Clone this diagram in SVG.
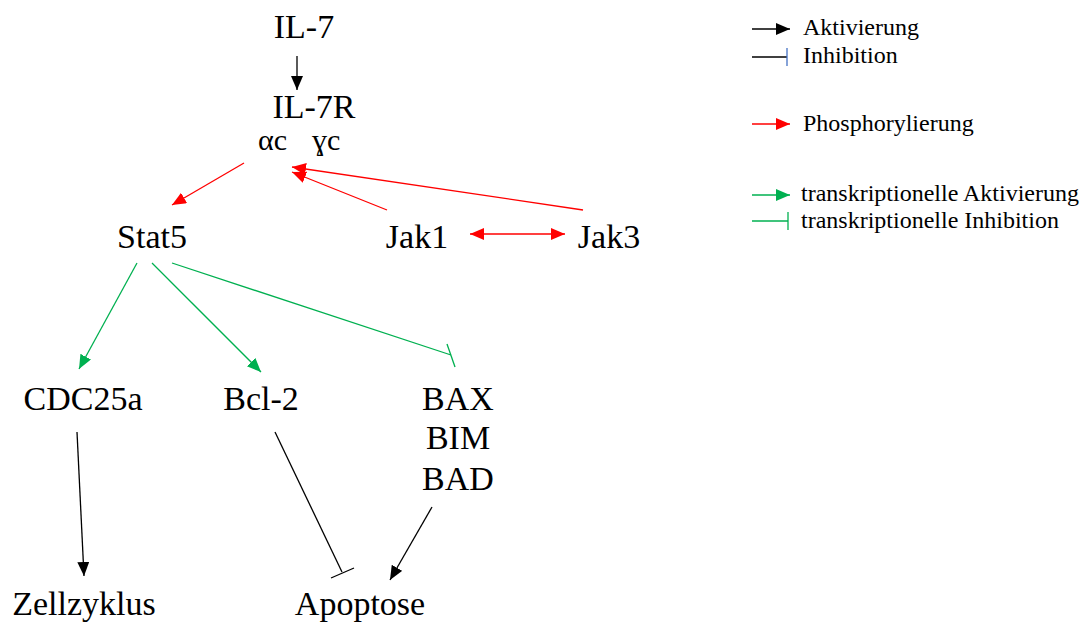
<svg xmlns="http://www.w3.org/2000/svg" width="1088" height="626" viewBox="0 0 1088 626">
<style>
text{font-family:"Liberation Serif","Times New Roman",serif;fill:#000}
.n{font-size:34px;text-anchor:middle}
.l{font-size:24px}
.k{stroke:#000;stroke-width:1.3;fill:none}
.r{stroke:#ff0000;stroke-width:1.3;fill:none}
.g{stroke:#00b050;stroke-width:1.3;fill:none}
</style>
<defs>
<marker id="ak" markerUnits="userSpaceOnUse" markerWidth="16" markerHeight="14" refX="14" refY="6" orient="auto"><path d="M0,0L14,6L0,12z" fill="#000"/></marker>
<marker id="ar" markerUnits="userSpaceOnUse" markerWidth="16" markerHeight="14" refX="14" refY="6" orient="auto-start-reverse"><path d="M0,0L14,6L0,12z" fill="#ff0000"/></marker>
<marker id="ag" markerUnits="userSpaceOnUse" markerWidth="16" markerHeight="14" refX="14" refY="6" orient="auto"><path d="M0,0L14,6L0,12z" fill="#00b050"/></marker>
</defs>
<g id="il7"><text class="n" x="304" y="38">IL-7</text></g>
<g id="il7r"><text class="n" x="314" y="118">IL-7R</text><text x="258" y="150" style="font-size:30px">αc</text><text x="312" y="150" style="font-size:30px">ɣc</text></g>
<g id="stat5"><text class="n" x="152" y="248">Stat5</text></g>
<g id="jak1"><text class="n" x="417" y="248">Jak1</text></g>
<g id="jak3"><text class="n" x="609" y="248">Jak3</text></g>
<g id="cdc25a"><text class="n" x="83" y="410">CDC25a</text></g>
<g id="bcl2"><text class="n" x="261" y="410">Bcl-2</text></g>
<g id="bax"><text class="n" x="458" y="410">BAX</text><text class="n" x="458" y="449">BIM</text><text class="n" x="458" y="490">BAD</text></g>
<g id="zellzyklus"><text class="n" x="84" y="615">Zellzyklus</text></g>
<g id="apoptose"><text class="n" x="360" y="615">Apoptose</text></g>
<g id="connectors">
<line class="k" x1="297" y1="56" x2="297" y2="90" marker-end="url(#ak)"/>
<line class="r" x1="244" y1="163" x2="172" y2="205" marker-end="url(#ar)"/>
<line class="r" x1="387" y1="210" x2="292" y2="172" marker-end="url(#ar)"/>
<line class="r" x1="583" y1="210" x2="292" y2="167" marker-end="url(#ar)"/>
<line class="r" x1="470" y1="234" x2="565" y2="234" marker-start="url(#ar)" marker-end="url(#ar)"/>
<line class="g" x1="137" y1="263" x2="79" y2="369" marker-end="url(#ag)"/>
<line class="g" x1="152" y1="263" x2="261" y2="372" marker-end="url(#ag)"/>
<line class="g" x1="172" y1="263" x2="451" y2="355"/>
<line class="g" x1="447" y1="344" x2="455" y2="367"/>
<line class="k" x1="77" y1="432" x2="84" y2="576" marker-end="url(#ak)"/>
<line class="k" x1="275" y1="432" x2="342" y2="572"/>
<line class="k" x1="331" y1="578" x2="354" y2="568"/>
<line class="k" x1="432" y1="507" x2="390" y2="580" marker-end="url(#ak)"/>
</g>
<g id="legend">
<line class="k" x1="752" y1="29" x2="790" y2="29" marker-end="url(#ak)"/>
<text class="l" x="803" y="35">Aktivierung</text>
<line class="k" x1="752" y1="57" x2="787" y2="57"/>
<line x1="787" y1="48" x2="787" y2="66" stroke="#4472c4" stroke-width="1.3"/>
<text class="l" x="803" y="63">Inhibition</text>
<line class="r" x1="752" y1="124" x2="790" y2="124" marker-end="url(#ar)"/>
<text class="l" x="803" y="131">Phosphorylierung</text>
<line class="g" x1="752" y1="195" x2="790" y2="195" marker-end="url(#ag)"/>
<text class="l" x="801" y="201">transkriptionelle Aktivierung</text>
<line class="g" x1="752" y1="221" x2="788" y2="221"/>
<line class="g" x1="788" y1="212" x2="788" y2="230"/>
<text class="l" x="801" y="228">transkriptionelle Inhibition</text>
</g>
</svg>
